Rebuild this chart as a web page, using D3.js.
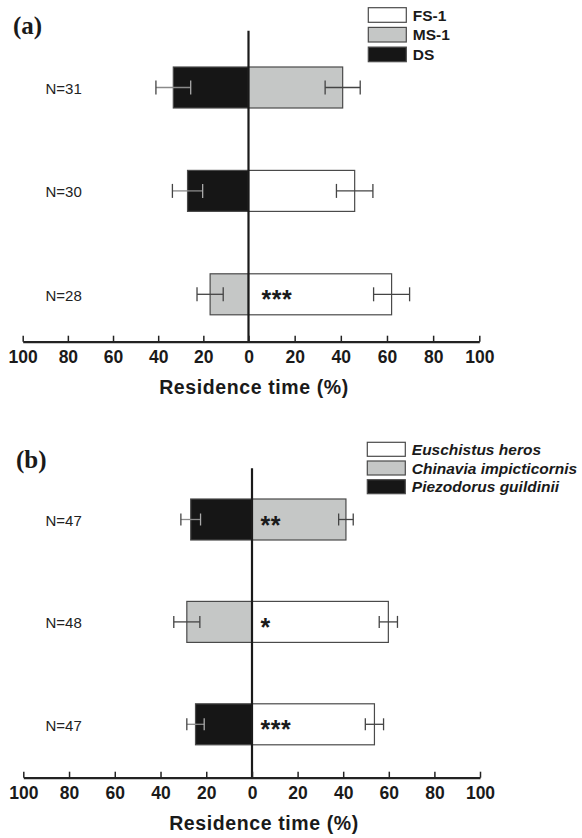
<!DOCTYPE html>
<html lang="en">
<head>
  <meta charset="UTF-8">
  <title>Residence time</title>
  <script src="https://d3js.org/d3.v7.min.js"></script>
  <style>
    body {
      margin: 0;
      background: white;
      font-family: "Liberation Sans", Arial, sans-serif;
    }
    svg {
      display: block;
    }
    .axis text {
      font-family: "Liberation Sans", Arial, sans-serif;
      font-size: 17.5px;
      font-weight: bold;
      fill: #1a1a1a;
    }
    .axis path, .axis line {
      stroke: #222;
    }
  </style>
</head>
<body>
<svg id="chart" width="582" height="838"></svg>

<script>
  // ---- data (a) ----
  const rowsA = ["N=31", "N=30", "N=28"];
  const leftA = [33.3, 27, 17];
  const leftSeA = [7.7, 6.7, 5.8];
  const leftCatA = ["DS", "DS", "MS-1"];
  const rightA = [40.8, 46, 62];
  const rightSeA = [7.6, 7.9, 7.8];
  const rightCatA = ["MS-1", "FS-1", "FS-1"];
  const sigA = ["", "", "***"];
  const legendA = ["FS-1", "MS-1", "DS"];

  // ---- data (b) ----
  const rowsB = ["N=47", "N=48", "N=47"];
  const leftB = [26.8, 28.5, 24.7];
  const leftSeB = [4.3, 5.7, 3.8];
  const leftCatB = ["Piezodorus guildinii", "Chinavia impicticornis", "Piezodorus guildinii"];
  const rightB = [41.2, 59.8, 53.7];
  const rightSeB = [3.2, 4, 4];
  const rightCatB = ["Chinavia impicticornis", "Euschistus heros", "Euschistus heros"];
  const sigB = ["**", "*", "***"];
  const legendB = ["Euschistus heros", "Chinavia impicticornis", "Piezodorus guildinii"];

  const tickValues = [-100, -80, -60, -40, -20, 0, 20, 40, 60, 80, 100];
  const fills = ["#ffffff", "#c5c7c6", "#161616"]; // white, gray, black

  const svg = d3.select("#chart");

  function drawPanel(opt) {
    const g = svg.append("g");
    const x = d3.scaleLinear().domain([-100, 0, 100]).range(opt.xRange);
    const y = d3.scalePoint().domain(d3.range(opt.rows.length)).range(opt.yRange);
    const color = d3.scaleOrdinal().domain(opt.legend).range(fills);
    const bh = opt.barH;

    const rows = opt.rows.map((n, i) => ({
      i, n,
      l: opt.left[i], ls: opt.leftSe[i], lc: opt.leftCat[i],
      r: opt.right[i], rs: opt.rightSe[i], rc: opt.rightCat[i],
      sig: opt.sig[i]
    }));

    // bars
    g.selectAll("rect.left").data(rows).join("rect")
      .attr("class", "left")
      .attr("x", d => x(-d.l))
      .attr("y", d => y(d.i) - bh / 2)
      .attr("width", d => x(0) - x(-d.l))
      .attr("height", bh)
      .attr("fill", d => color(d.lc))
      .attr("stroke", "#4a4a4a")
      .attr("stroke-width", 1.2);

    g.selectAll("rect.right").data(rows).join("rect")
      .attr("class", "right")
      .attr("x", x(0))
      .attr("y", d => y(d.i) - bh / 2)
      .attr("width", d => x(d.r) - x(0))
      .attr("height", bh)
      .attr("fill", d => color(d.rc))
      .attr("stroke", "#4a4a4a")
      .attr("stroke-width", 1.2);

    // error bars
    const errs = [];
    rows.forEach(d => {
      errs.push({ i: d.i, lo: -d.l - d.ls, hi: -d.l + d.ls, dark: color(d.lc) === fills[2] });
      errs.push({ i: d.i, lo: d.r - d.rs, hi: d.r + d.rs, dark: false });
    });
    const eg = g.selectAll("g.err").data(errs).join("g").attr("class", "err")
      .attr("stroke-width", 1.3);
    eg.append("line")
      .attr("x1", d => x(d.lo)).attr("x2", d => x(d.hi))
      .attr("y1", d => y(d.i)).attr("y2", d => y(d.i))
      .attr("stroke", d => d.dark ? "#8a8a8a" : "#444");
    eg.append("line")
      .attr("x1", d => x(d.lo)).attr("x2", d => x(d.lo))
      .attr("y1", d => y(d.i) - opt.cap).attr("y2", d => y(d.i) + opt.cap)
      .attr("stroke", "#444");
    eg.append("line")
      .attr("x1", d => x(d.hi)).attr("x2", d => x(d.hi))
      .attr("y1", d => y(d.i) - opt.cap).attr("y2", d => y(d.i) + opt.cap)
      .attr("stroke", d => d.dark ? "#aaa" : "#444");

    // zero line
    g.append("line")
      .attr("x1", x(0)).attr("x2", x(0))
      .attr("y1", opt.zeroTop).attr("y2", opt.axisY)
      .attr("stroke", "#1a1a1a")
      .attr("stroke-width", 2.2);

    // significance
    g.selectAll("text.sig").data(rows.filter(d => d.sig)).join("text")
      .attr("class", "sig")
      .attr("x", x(0) + opt.sigDx)
      .attr("y", d => y(d.i) + 14)
      .attr("font-size", 25)
      .attr("font-weight", "bold")
      .attr("letter-spacing", 0.5)
      .attr("fill", "#1a1a1a")
      .text(d => d.sig);

    // N labels
    g.selectAll("text.n").data(rows).join("text")
      .attr("class", "n")
      .attr("x", opt.nX)
      .attr("y", d => y(d.i) + 6.5)
      .attr("font-size", 15)
      .attr("fill", "#222")
      .text(d => d.n);

    // axis
    const axis = g.append("g")
      .attr("class", "axis")
      .attr("transform", `translate(0,${opt.axisY})`)
      .call(d3.axisBottom(x)
        .tickValues(tickValues)
        .tickSizeInner(-6)
        .tickSizeOuter(0)
        .tickPadding(9)
        .tickFormat(d => Math.abs(d)));
    axis.select(".domain").attr("stroke-width", 2.2);
    axis.selectAll(".tick line").attr("stroke-width", 1.5);

    g.append("text")
      .attr("x", opt.titleX)
      .attr("y", opt.axisY + 52)
      .attr("text-anchor", "middle")
      .attr("font-size", 19.5)
      .attr("font-weight", "bold")
      .attr("letter-spacing", 0.6)
      .attr("fill", "#1a1a1a")
      .text("Residence time (%)");

    // panel letter
    g.append("text")
      .attr("x", opt.letterX)
      .attr("y", opt.letterY)
      .attr("font-family", "'Liberation Serif', 'Times New Roman', serif")
      .attr("font-size", 25)
      .attr("font-weight", "bold")
      .attr("fill", "#1a1a1a")
      .text(opt.letter);

    // legend
    const lg = g.append("g")
      .attr("transform", `translate(${opt.legX},${opt.legY})`);
    const li = lg.selectAll("g").data(opt.legend).join("g")
      .attr("transform", (d, i) => `translate(0,${i * opt.legStep})`);
    li.append("rect")
      .attr("width", 38).attr("height", opt.legBox)
      .attr("fill", d => color(d))
      .attr("stroke", "#4a4a4a")
      .attr("stroke-width", 1.2);
    li.append("text")
      .attr("x", 44.5)
      .attr("y", opt.legBox / 2 + 5.5)
      .attr("font-size", opt.legFont)
      .attr("font-weight", "bold")
      .attr("font-style", opt.italic ? "italic" : "normal")
      .attr("fill", "#1a1a1a")
      .text(d => d);
  }

  drawPanel({
    rows: rowsA, left: leftA, leftSe: leftSeA, leftCat: leftCatA,
    right: rightA, rightSe: rightSeA, rightCat: rightCatA, sig: sigA,
    legend: legendA, italic: false, legFont: 15.5,
    xRange: [22.7, 248.5, 479.3], yRange: [87.5, 294.3], barH: 41, cap: 7,
    axisY: 341.7, zeroTop: 30.7, sigDx: 13, nX: 45.5, titleX: 254,
    letter: "(a)", letterX: 13, letterY: 33.5,
    legX: 368.3, legY: 7.7, legStep: 19.7, legBox: 14.6
  });

  drawPanel({
    rows: rowsB, left: leftB, leftSe: leftSeB, leftCat: leftCatB,
    right: rightB, rightSe: rightSeB, rightCat: rightCatB, sig: sigB,
    legend: legendB, italic: true, legFont: 15.5,
    xRange: [23.3, 252, 480], yRange: [519.5, 724.3], barH: 41, cap: 6,
    axisY: 777.7, zeroTop: 468.3, sigDx: 8.5, nX: 45.5, titleX: 264,
    letter: "(b)", letterX: 16, letterY: 468,
    legX: 367.3, legY: 442.3, legStep: 18.7, legBox: 14
  });
</script>
</body>
</html>
